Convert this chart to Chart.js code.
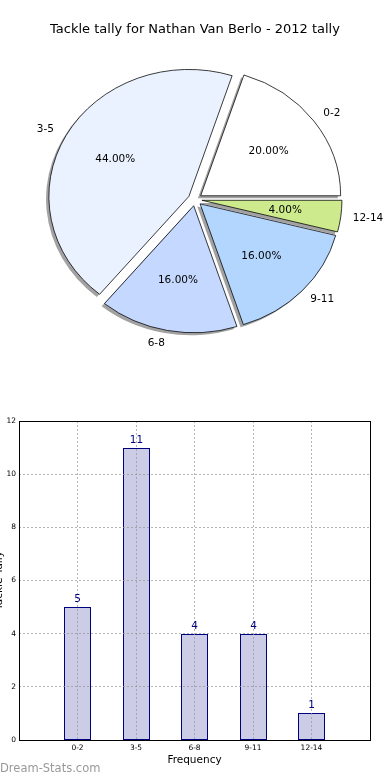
<!DOCTYPE html>
<html><head><meta charset="utf-8">
<script src="https://cdn.jsdelivr.net/npm/chart.js@4.4.1/dist/chart.umd.min.js"></script>
<style>
html,body{margin:0;padding:0;background:#fff;}
body{width:390px;height:780px;position:relative;overflow:hidden;}
#pieWrap{position:absolute;left:0;top:0;width:390px;height:380px;}
#barWrap{position:absolute;left:0;top:380px;width:390px;height:400px;}
#wm{position:absolute;left:0;top:763px;font-family:'DejaVu Sans';font-size:11.5px;line-height:1;color:#999;white-space:nowrap;}
</style></head><body>
<div id="pieWrap"><canvas id="pie" width="390" height="380"></canvas></div>
<div id="barWrap"><canvas id="bar" width="390" height="400"></canvas></div>
<div id="wm">Dream-Stats.com</div>
<script>
// ---- data ----
const chartTitle = 'Tackle tally for Nathan Van Berlo - 2012 tally';
const categories = ['0-2', '3-5', '6-8', '9-11', '12-14'];
const tallies = [5, 11, 4, 4, 1];
const yTicks = [0, 2, 4, 6, 8, 10, 12];
const xAxisTitle = 'Frequency';
const yAxisTitle = 'Tackle Tally';

// ---- styles ----
const sliceColors = ['#ffffff', '#ebf2ff', '#c5d8ff', '#b3d6ff', '#cdea8c'];
const FONT = 'DejaVu Sans';
const ELL = 127 / 140;      // vertical squash of the pie (non-equal aspect)
const EXPLODE = 7;          // explode distance
const SHADOW_DX = -2.8, SHADOW_DY = 2.6;

const total = tallies.reduce((a, b) => a + b, 0);
// matplotlib draws counter-clockwise from 3 o'clock; Chart.js clockwise -> reverse order
const pieLabels = categories.slice().reverse();
const pieValues = tallies.slice().reverse();
const pieColors = sliceColors.slice().reverse();

function arcGeom(a) {
  const p = a.getProps(['x', 'y', 'startAngle', 'endAngle', 'outerRadius'], true);
  p.mid = (p.startAngle + p.endAngle) / 2;
  p.ex = Math.cos(p.mid) * EXPLODE;
  p.ey = Math.sin(p.mid) * EXPLODE;
  return p;
}

const pieStyle = {
  id: 'pieStyle',
  beforeDatasetsDraw(chart) {
    const ctx = chart.ctx;
    const arcs = chart.getDatasetMeta(0).data;
    const ellipse = (p) => { ctx.translate(p.x, p.y); ctx.scale(1, ELL); ctx.translate(-p.x, -p.y); };
    arcs.forEach(a => {
      const p = arcGeom(a);
      ctx.save();
      ctx.translate(SHADOW_DX, SHADOW_DY);
      ellipse(p);
      ctx.translate(p.ex, p.ey);
      ctx.beginPath();
      ctx.moveTo(p.x, p.y);
      ctx.arc(p.x, p.y, p.outerRadius, p.startAngle, p.endAngle);
      ctx.closePath();
      ctx.fillStyle = 'rgba(70,70,70,0.5)';
      ctx.fill();
      ctx.restore();
    });
    arcs.forEach(a => {
      const p = arcGeom(a);
      ctx.save();
      ellipse(p);
      ctx.translate(p.ex, p.ey);
      a.draw(ctx);
      ctx.restore();
    });
    return false;
  },
  afterDraw(chart) {
    const ctx = chart.ctx;
    const arcs = chart.getDatasetMeta(0).data;
    const vals = chart.data.datasets[0].data;
    ctx.save();
    ctx.font = '10.5px "' + FONT + '"';
    ctx.fillStyle = '#000';
    ctx.textBaseline = 'middle';
    arcs.forEach((a, i) => {
      const p = arcGeom(a);
      const cx = p.x + p.ex, cy = p.y + p.ey;
      const R = p.outerRadius, c = Math.cos(p.mid), s = Math.sin(p.mid);
      const sy = (uy) => p.y + (uy - p.y) * ELL;
      ctx.textAlign = c > 0 ? 'left' : 'right';
      ctx.fillText(chart.data.labels[i], cx + 1.1 * R * c - (c > 0 ? 2 : 0), sy(cy + 1.1 * R * s));
      ctx.textAlign = 'center';
      ctx.fillText((vals[i] / total * 100).toFixed(2) + '%', cx + 0.6 * R * c, sy(cy + 0.6 * R * s));
    });
    ctx.restore();
  }
};

new Chart(document.getElementById('pie'), {
  type: 'pie',
  data: {
    labels: pieLabels,
    datasets: [{
      data: pieValues,
      backgroundColor: pieColors,
      borderColor: '#000',
      borderWidth: 0.8,
      borderJoinStyle: 'miter'
    }]
  },
  options: {
    responsive: false,
    animation: false,
    events: [],
    rotation: 90,
    radius: 140,
    layout: { padding: { top: 0, bottom: 18.6, left: 0, right: 0 } },
    plugins: {
      legend: { display: false },
      tooltip: { enabled: false },
      title: {
        display: true, text: chartTitle, color: '#000',
        font: { family: FONT, size: 13, weight: 'normal' },
        padding: { top: 22, bottom: 0 }
      }
    }
  },
  plugins: [pieStyle]
});

// ---- bar chart ----
const barLabels = ['', ...categories, ''];
const barValues = [null, ...tallies, null];

const barDeco = {
  id: 'barDeco',
  beforeDatasetsDraw(chart) {
    // snap bar edges to whole pixels
    chart.getDatasetMeta(0).data.forEach(b => {
      if (!isFinite(b.x) || !isFinite(b.y)) return;
      const l = Math.round(b.x - b.width / 2), r = Math.round(b.x + b.width / 2);
      b.x = (l + r) / 2;
      b.width = r - l;
      b.y = Math.round(b.y);
      b.base = Math.round(b.base);
    });
  },
  afterDraw(chart) {
    const ctx = chart.ctx;
    const ca = chart.chartArea;
    ctx.save();
    // frame
    ctx.strokeStyle = '#000';
    ctx.lineWidth = 1;
    ctx.strokeRect(Math.round(ca.left) + 0.5, Math.round(ca.top) + 0.5,
      Math.round(ca.right) - Math.round(ca.left), Math.round(ca.bottom) - Math.round(ca.top));
    // value labels
    const meta = chart.getDatasetMeta(0);
    const data = chart.data.datasets[0].data;
    ctx.font = '10.5px "' + FONT + '"';
    ctx.fillStyle = '#000080';
    ctx.textAlign = 'center';
    ctx.textBaseline = 'bottom';
    meta.data.forEach((b, i) => {
      if (data[i] == null) return;
      ctx.fillText(String(data[i]), b.x, b.y - 2);
    });
    // y axis title (mostly cut off at the left edge)
    ctx.fillStyle = '#000';
    ctx.translate(1.5, (ca.top + ca.bottom) / 2);
    ctx.rotate(-Math.PI / 2);
    ctx.textBaseline = 'alphabetic';
    ctx.fillText(yAxisTitle, 0, 0);
    ctx.restore();
  }
};

const gridOpts = { display: true, offset: false, color: 'rgba(150,150,150,0.7)', lineWidth: 1, drawTicks: false, z: 1 };

new Chart(document.getElementById('bar'), {
  type: 'bar',
  data: {
    labels: barLabels,
    datasets: [{
      data: barValues,
      backgroundColor: '#ccccE6',
      borderColor: '#000080',
      borderWidth: 1,
      borderSkipped: false,
      inflateAmount: 0,
      categoryPercentage: 1,
      barPercentage: 27 / 58.5
    }]
  },
  options: {
    responsive: false,
    animation: false,
    events: [],
    layout: { padding: { top: 41, right: 20, left: 0, bottom: 0 } },
    plugins: { legend: { display: false }, tooltip: { enabled: false } },
    scales: {
      x: {
        offset: false,
        grid: gridOpts,
        border: { display: false, dash: [2, 2] },
        ticks: { font: { family: FONT, size: 7.5 }, color: '#000', padding: 4, maxRotation: 0, autoSkip: false },
        title: { display: true, text: xAxisTitle, color: '#000', font: { family: FONT, size: 10.5 }, padding: { top: 0, bottom: 13.7 } },
        afterFit(s) { s.height = 40; }
      },
      y: {
        min: 0, max: 12,
        afterBuildTicks(s) { s.ticks = yTicks.map(v => ({ value: v })); },
        grid: gridOpts,
        border: { display: false, dash: [2, 2] },
        ticks: { font: { family: FONT, size: 7.5 }, color: '#000', padding: 3 },
        afterFit(s) { s.width = 19; }
      }
    }
  },
  plugins: [barDeco]
});
</script>
</body></html>
